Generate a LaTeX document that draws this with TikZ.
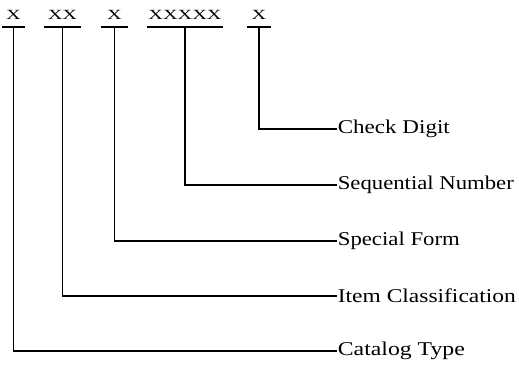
\documentclass[tikz,border=0pt]{standalone}
\usepackage{graphicx}
\usepackage{fontspec}
\setmainfont{Liberation Serif}
\newcommand{\fitw}[2]{\resizebox{#1}{\height}{#2}}
\begin{document}
\begin{tikzpicture}[x=1pt,y=1pt,line width=1.7pt,
  code/.style={inner xsep=0pt,inner ysep=0pt,anchor=south,font=\fontsize{14}{14}\selectfont},
  lab/.style={anchor=west,inner sep=0pt,font=\fontsize{19.5}{19.5}\selectfont},
  conn/.style={line width=1.5pt}]
\useasboundingbox (0,0) rectangle (519,366);
% code letters
\node[code,minimum width=21pt] (a) at (13.5,339) {\scalebox{1.45}[1]{X}\rule[-6.5pt]{0pt}{1pt}};
\node[code,minimum width=35pt] (b) at (62.5,339) {\scalebox{1.45}[1]{XX}\rule[-6.5pt]{0pt}{1pt}};
\node[code,minimum width=26pt] (c) at (114.5,339) {\scalebox{1.45}[1]{X}\rule[-6.5pt]{0pt}{1pt}};
\node[code,minimum width=74pt] (d) at (185,339) {\scalebox{1.45}[1]{XXXXX}\rule[-6.5pt]{0pt}{1pt}};
\node[code,minimum width=22pt] (e) at (259,339) {\scalebox{1.45}[1]{X}\rule[-6.5pt]{0pt}{1pt}};
\foreach \n in {a,b,c,d,e} \draw (\n.south west) -- (\n.south east);
% labels
\node[lab] (le) at (337,237) {\fitw{112pt}{Check Digit}};
\node[lab] (ld) at (337,181) {\fitw{176pt}{Sequential Number}};
\node[lab] (lc) at (337,125) {\fitw{122pt}{Special Form}};
\node[lab] (lb) at (337,70) {\fitw{178pt}{Item Classification}};
\node[lab] (la) at (337,15) {\fitw{127pt}{Catalog Type}};
% connectors
\draw[conn] (a.south) |- (la.west);
\draw[conn] (b.south) |- (lb.west);
\draw[conn] (c.south) |- (lc.west);
\draw[conn] (d.south) |- (ld.west);
\draw[conn] (e.south) |- (le.west);
\end{tikzpicture}
\end{document}
